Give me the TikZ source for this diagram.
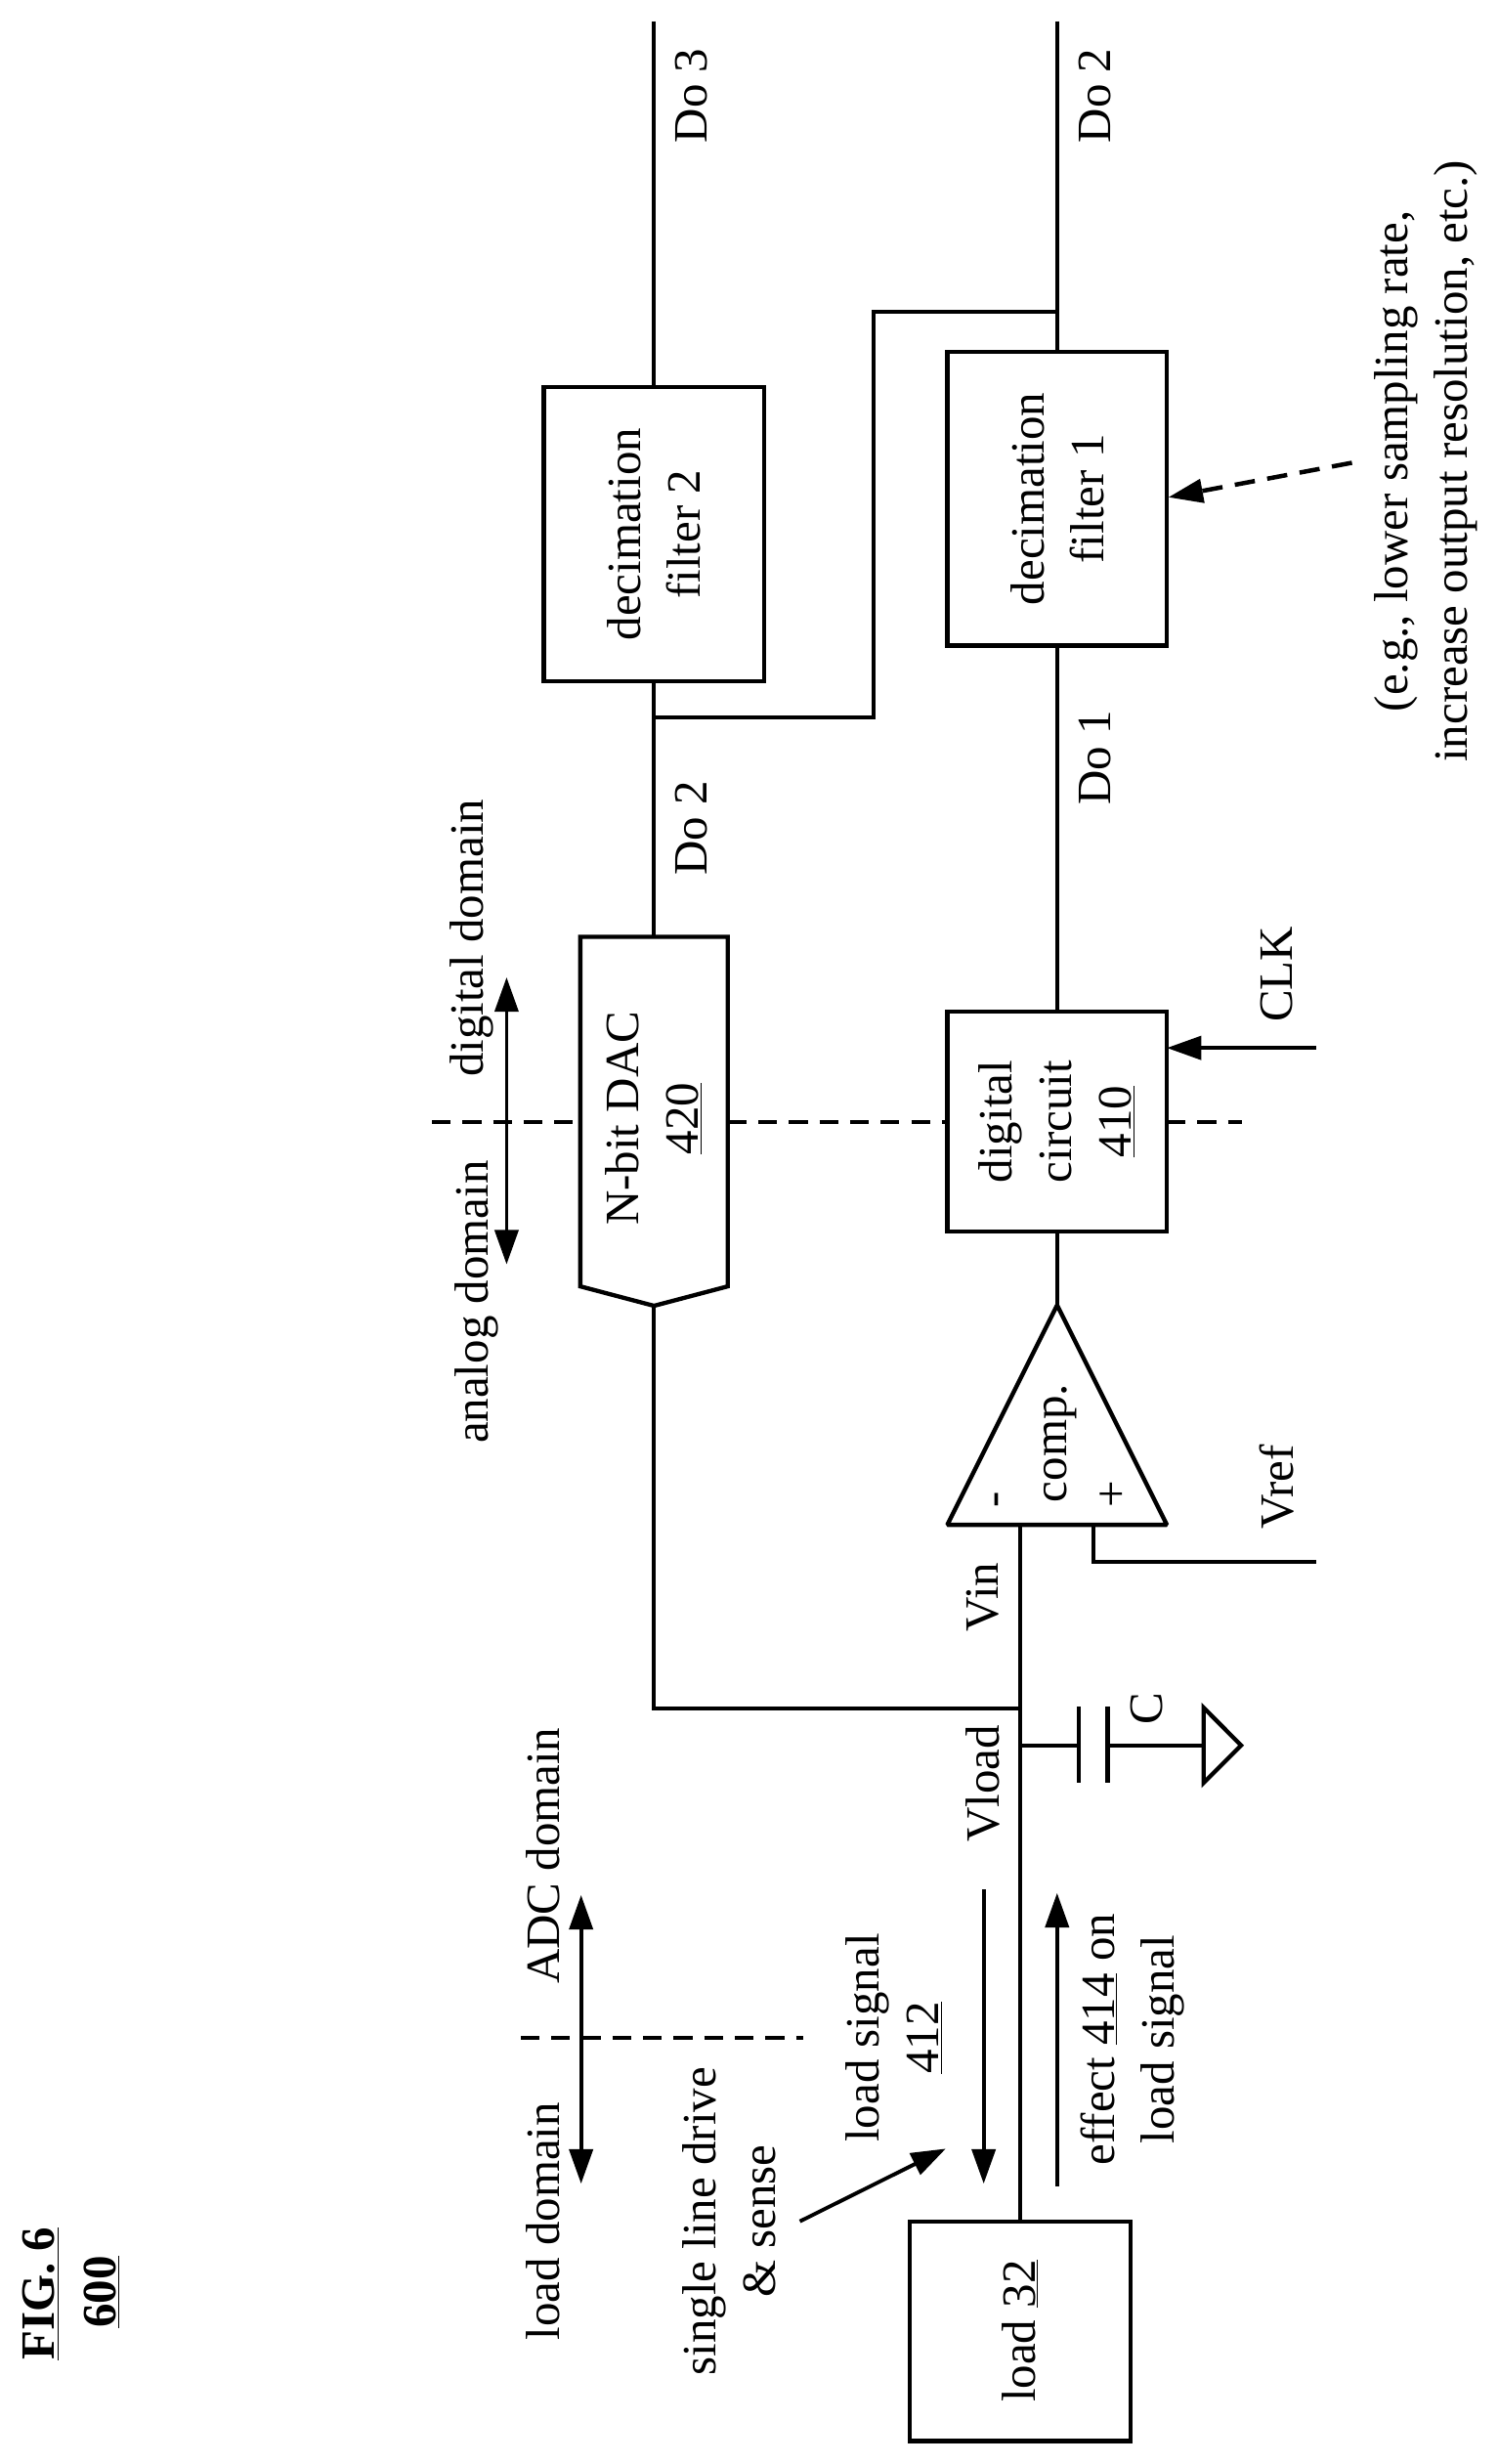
\documentclass[tikz,border=0pt]{standalone}
\usepackage{fontspec}
\setmainfont{Liberation Serif}
\usetikzlibrary{arrows.meta}

\tikzset{
	wire/.style={line width=2.4pt},
	outline/.style={line width=2.7pt, line join=miter},
	boxed/.style={draw, outline, rotate=90, align=center, inner sep=0pt, outer sep=0pt},
	lbl/.style={rotate=90, align=center, inner sep=0pt},
	arr/.style={wire, -{Triangle[length=22pt,width=15pt]}},
	dbl/.style={wire, {Triangle[length=22pt,width=15pt]}-{Triangle[length=22pt,width=15pt]}},
	border/.style={line width=2.6pt, dash pattern=on 12pt off 7.5pt},
}

\begin{document}
\begin{tikzpicture}[x=1pt, y=-1pt, font=\fontsize{30.5}{38}\selectfont]

	\useasboundingbox (0,0) rectangle (955.1,1570.7);

	%boxes
	\node[boxed, minimum width=187.7, minimum height=140.5] (filtertwo) at (417,340.6) {decimation\\filter 2};
	\node[boxed, minimum width=187.2, minimum height=140] (filterone) at (674,318) {decimation\\filter 1};
	\node[boxed, minimum width=140.2, minimum height=140] (digital) at (674,715) {digital\\circuit\\\underline{410}};
	\node[boxed, minimum width=140, minimum height=140.7] (load) at (650.4,1486) {load \underline{32}};

	%dac
	\node[lbl] (dac) at (417,713) {N-bit DAC\\\underline{420}};
	\coordinate (dactop) at (417,597.2);
	\coordinate (dacpoint) at (417,832.4);
	\draw[outline] (370,597.2) -- (464,597.2) -- (464,820) -- (dacpoint) -- (370,820) -- cycle;

	%comparator
	\coordinate (compapex) at (674,832);
	\coordinate (compminus) at (650.4,972);
	\coordinate (compplus) at (697,972);
	\draw[outline, line join=bevel] (compapex) -- (744,972) -- (604,972) -- cycle;
	\node[lbl] (comp) at (676,920) {comp.};
	\node[lbl] (minus) at (638.7,956) {-};
	\node[lbl] (plus) at (710,952.6) {+};

	%outputs
	\coordinate (dothree) at (417,13.5);
	\coordinate (dotwo) at (674,13.5);
	\coordinate (branchin) at (417,457.5);
	\coordinate (branchout) at (674,198.7);
	\draw[wire] (dothree) -- (filtertwo.east);
	\draw[wire] (dotwo) -- (filterone.east);
	\draw[wire] (filtertwo.west) -- (dactop);
	\draw[wire] (filterone.west) -- (digital.east);
	\draw[wire] (digital.west) -- (compapex);
	\draw[wire] (branchin) -- (557,457.5) -- (557,198.7) -- (branchout);

	%input line
	\coordinate (sense) at (650.4,1089);
	\coordinate (capin) at (650.4,1112.6);
	\draw[wire] (compminus) -- (load.east);
	\draw[wire] (dacpoint) -- (417,1089) -- (sense);

	%capacitor and ground
	\coordinate (plateone) at (687.7,1112.6);
	\coordinate (platetwo) at (706.3,1112.6);
	\coordinate (gnd) at (767.4,1112.6);
	\draw[wire] (capin) -- (plateone);
	\draw[wire] (platetwo) -- (gnd);
	\draw[outline] (687.7,1088) -- (687.7,1136.5);
	\draw[outline] (706.3,1088) -- (706.3,1136.5);
	\draw[outline] (767.4,1088.5) -- (791.3,1112.6) -- (767.4,1136.5) -- cycle;

	%inputs
	\coordinate (clkin) at (839,668);
	\coordinate (vrefin) at (839,995.6);
	\draw[arr] (clkin) -- (744,668);
	\draw[wire] (compplus) -- (697,995.6) -- (vrefin);
	\draw[arr, line width=2.8pt, dash pattern=on 13pt off 8pt] (862,295) -- (745,317);

	%domain borders
	\draw[border] (275.4,715) -- (370,715);
	\draw[border] (464,715) -- (digital.north);
	\draw[border] (digital.south) -- (792,715);
	\draw[border] (332,1299) -- (512,1299);
	\draw[dbl] (323,623) -- (323,806);
	\draw[dbl] (370.5,1208) -- (370.5,1392);

	%signal arrows
	\draw[arr] (627.2,1204.6) -- (627.2,1392);
	\draw[arr] (674,1393.6) -- (674,1206.7);
	\draw[arr] (510,1416) -- (603,1369.7);

	%labels
	\node[lbl] (lblthree) at (441,61) {Do 3};
	\node[lbl] (lbltwo) at (698,61) {Do 2};
	\node[lbl] (lblone) at (698,483) {Do 1};
	\node[lbl] (lbldac) at (441,528) {Do 2};
	\node[lbl] (lbldigital) at (301,598) {digital domain};
	\node[lbl] (lblanalog) at (304,830) {analog domain};
	\node[lbl] (lblclk) at (814,621) {CLK};
	\node[lbl] (lblvref) at (814,948) {Vref};
	\node[lbl] (lblvin) at (626.5,1018) {Vin};
	\node[lbl] (lblvload) at (626.5,1137) {Vload};
	\node[lbl] (lblc) at (731,1089) {C};
	\node[lbl] (lbladc) at (346,1183) {ADC domain};
	\node[lbl] (lblload) at (346,1416) {load domain};
	\node[lbl] (lblsingle) at (465,1416) {single line drive\\\& sense};
	\node[lbl] (lblsignal) at (570,1299) {load signal\\\underline{412}};
	\node[lbl] (lbleffect) at (722,1300) {effect \underline{414} on\\load signal};
	\node[lbl] (lblnote) at (909,294) {(e.g., lower sampling rate,\\increase output resolution, etc.)};
	\node[lbl, font=\fontsize{30.5}{38}\selectfont\bfseries] (lblfig) at (26,1462) {\underline{FIG. 6}};
	\node[lbl, font=\fontsize{30.5}{38}\selectfont\bfseries] (lblnum) at (65,1461) {\underline{600}};

\end{tikzpicture}
\end{document}
